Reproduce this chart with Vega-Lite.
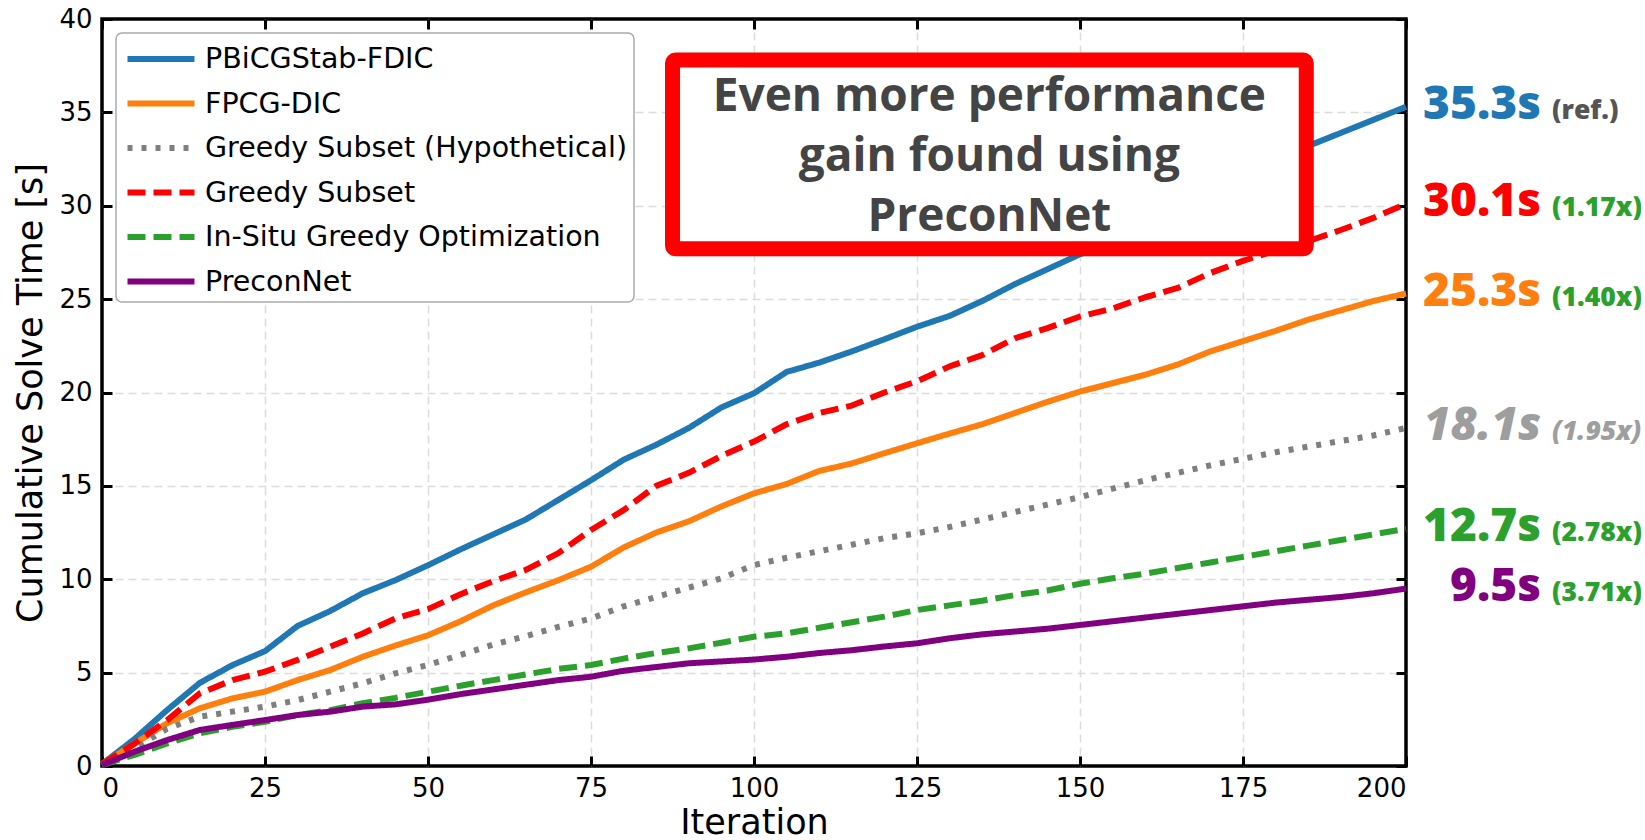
{
  "$schema": "https://vega.github.io/schema/vega-lite/v6.json",
  "width": 1304,
  "height": 747,
  "autosize": {"type": "none"},
  "padding": {"left": 102, "top": 19, "right": 239, "bottom": 74},
  "background": "white",
  "config": {
    "font": "DejaVu Sans",
    "view": {"stroke": "black", "strokeWidth": 3.5},
    "axis": {
      "domain": false,
      "tickColor": "black",
      "tickWidth": 3,
      "tickSize": -10,
      "labelFont": "DejaVu Sans",
      "labelFontSize": 26,
      "labelColor": "black",
      "titleFont": "DejaVu Sans",
      "titleFontSize": 35,
      "titleFontWeight": "normal",
      "titleColor": "black",
      "gridColor": "#dcdcdc",
      "gridDash": [8, 5],
      "gridWidth": 1.5
    },
    "legend": {
      "orient": "top-left",
      "offset": 14,
      "padding": 6,
      "fillColor": "white",
      "strokeColor": "#aaaaaa",
      "strokeWidth": 1.5,
      "cornerRadius": 6,
      "labelFont": "DejaVu Sans",
      "labelFontSize": 28.5,
      "labelColor": "black",
      "labelLimit": 0,
      "labelOffset": 24,
      "symbolOffset": 19,
      "symbolType": "M-2,0H2",
      "symbolSize": 1122,
      "symbolStrokeWidth": 6,
      "rowPadding": 9.5
    }
  },
  "datasets": {
    "series": [
      {"i": 0, "PBiCGStab-FDIC": 0.1, "FPCG-DIC": 0.1, "Greedy Subset (Hypothetical)": 0.05, "Greedy Subset": 0.1, "In-Situ Greedy Optimization": 0.05, "PreconNet": 0.05},
      {"i": 5, "PBiCGStab-FDIC": 1.45, "FPCG-DIC": 1.2, "Greedy Subset (Hypothetical)": 0.95, "Greedy Subset": 1.2, "In-Situ Greedy Optimization": 0.6, "PreconNet": 0.77},
      {"i": 10, "PBiCGStab-FDIC": 3.0, "FPCG-DIC": 2.29, "Greedy Subset (Hypothetical)": 2.0, "Greedy Subset": 2.46, "In-Situ Greedy Optimization": 1.21, "PreconNet": 1.39},
      {"i": 15, "PBiCGStab-FDIC": 4.45, "FPCG-DIC": 3.09, "Greedy Subset (Hypothetical)": 2.64, "Greedy Subset": 3.89, "In-Situ Greedy Optimization": 1.75, "PreconNet": 1.93},
      {"i": 20, "PBiCGStab-FDIC": 5.4, "FPCG-DIC": 3.62, "Greedy Subset (Hypothetical)": 2.91, "Greedy Subset": 4.6, "In-Situ Greedy Optimization": 2.1, "PreconNet": 2.2},
      {"i": 25, "PBiCGStab-FDIC": 6.15, "FPCG-DIC": 3.98, "Greedy Subset (Hypothetical)": 3.18, "Greedy Subset": 5.05, "In-Situ Greedy Optimization": 2.37, "PreconNet": 2.46},
      {"i": 30, "PBiCGStab-FDIC": 7.5, "FPCG-DIC": 4.6, "Greedy Subset (Hypothetical)": 3.53, "Greedy Subset": 5.68, "In-Situ Greedy Optimization": 2.73, "PreconNet": 2.73},
      {"i": 35, "PBiCGStab-FDIC": 8.3, "FPCG-DIC": 5.14, "Greedy Subset (Hypothetical)": 3.98, "Greedy Subset": 6.39, "In-Situ Greedy Optimization": 2.99, "PreconNet": 2.91},
      {"i": 40, "PBiCGStab-FDIC": 9.25, "FPCG-DIC": 5.85, "Greedy Subset (Hypothetical)": 4.43, "Greedy Subset": 7.1, "In-Situ Greedy Optimization": 3.36, "PreconNet": 3.18},
      {"i": 45, "PBiCGStab-FDIC": 9.95, "FPCG-DIC": 6.45, "Greedy Subset (Hypothetical)": 4.96, "Greedy Subset": 7.9, "In-Situ Greedy Optimization": 3.65, "PreconNet": 3.3},
      {"i": 50, "PBiCGStab-FDIC": 10.75, "FPCG-DIC": 7.0, "Greedy Subset (Hypothetical)": 5.41, "Greedy Subset": 8.4, "In-Situ Greedy Optimization": 3.98, "PreconNet": 3.55},
      {"i": 55, "PBiCGStab-FDIC": 11.6, "FPCG-DIC": 7.75, "Greedy Subset (Hypothetical)": 5.95, "Greedy Subset": 9.2, "In-Situ Greedy Optimization": 4.3, "PreconNet": 3.85},
      {"i": 60, "PBiCGStab-FDIC": 12.4, "FPCG-DIC": 8.6, "Greedy Subset (Hypothetical)": 6.5, "Greedy Subset": 9.9, "In-Situ Greedy Optimization": 4.6, "PreconNet": 4.1},
      {"i": 65, "PBiCGStab-FDIC": 13.2, "FPCG-DIC": 9.3, "Greedy Subset (Hypothetical)": 6.95, "Greedy Subset": 10.5, "In-Situ Greedy Optimization": 4.9, "PreconNet": 4.35},
      {"i": 70, "PBiCGStab-FDIC": 14.25, "FPCG-DIC": 9.95, "Greedy Subset (Hypothetical)": 7.45, "Greedy Subset": 11.4, "In-Situ Greedy Optimization": 5.2, "PreconNet": 4.6},
      {"i": 75, "PBiCGStab-FDIC": 15.3, "FPCG-DIC": 10.67, "Greedy Subset (Hypothetical)": 7.9, "Greedy Subset": 12.64, "In-Situ Greedy Optimization": 5.41, "PreconNet": 4.78},
      {"i": 80, "PBiCGStab-FDIC": 16.4, "FPCG-DIC": 11.7, "Greedy Subset (Hypothetical)": 8.55, "Greedy Subset": 13.7, "In-Situ Greedy Optimization": 5.75, "PreconNet": 5.1},
      {"i": 85, "PBiCGStab-FDIC": 17.2, "FPCG-DIC": 12.5, "Greedy Subset (Hypothetical)": 9.05, "Greedy Subset": 15.0, "In-Situ Greedy Optimization": 6.05, "PreconNet": 5.3},
      {"i": 90, "PBiCGStab-FDIC": 18.1, "FPCG-DIC": 13.1, "Greedy Subset (Hypothetical)": 9.55, "Greedy Subset": 15.7, "In-Situ Greedy Optimization": 6.3, "PreconNet": 5.5},
      {"i": 95, "PBiCGStab-FDIC": 19.2, "FPCG-DIC": 13.9, "Greedy Subset (Hypothetical)": 10.05, "Greedy Subset": 16.6, "In-Situ Greedy Optimization": 6.6, "PreconNet": 5.6},
      {"i": 100, "PBiCGStab-FDIC": 19.96, "FPCG-DIC": 14.6, "Greedy Subset (Hypothetical)": 10.76, "Greedy Subset": 17.37, "In-Situ Greedy Optimization": 6.92, "PreconNet": 5.7},
      {"i": 105, "PBiCGStab-FDIC": 21.1, "FPCG-DIC": 15.1, "Greedy Subset (Hypothetical)": 11.15, "Greedy Subset": 18.3, "In-Situ Greedy Optimization": 7.1, "PreconNet": 5.85},
      {"i": 110, "PBiCGStab-FDIC": 21.6, "FPCG-DIC": 15.8, "Greedy Subset (Hypothetical)": 11.5, "Greedy Subset": 18.9, "In-Situ Greedy Optimization": 7.4, "PreconNet": 6.05},
      {"i": 115, "PBiCGStab-FDIC": 22.2, "FPCG-DIC": 16.2, "Greedy Subset (Hypothetical)": 11.85, "Greedy Subset": 19.3, "In-Situ Greedy Optimization": 7.7, "PreconNet": 6.2},
      {"i": 120, "PBiCGStab-FDIC": 22.85, "FPCG-DIC": 16.75, "Greedy Subset (Hypothetical)": 12.2, "Greedy Subset": 20.0, "In-Situ Greedy Optimization": 8.0, "PreconNet": 6.4},
      {"i": 125, "PBiCGStab-FDIC": 23.52, "FPCG-DIC": 17.28, "Greedy Subset (Hypothetical)": 12.46, "Greedy Subset": 20.6, "In-Situ Greedy Optimization": 8.35, "PreconNet": 6.57},
      {"i": 130, "PBiCGStab-FDIC": 24.1, "FPCG-DIC": 17.8, "Greedy Subset (Hypothetical)": 12.8, "Greedy Subset": 21.4, "In-Situ Greedy Optimization": 8.6, "PreconNet": 6.84},
      {"i": 135, "PBiCGStab-FDIC": 24.9, "FPCG-DIC": 18.3, "Greedy Subset (Hypothetical)": 13.2, "Greedy Subset": 22.0, "In-Situ Greedy Optimization": 8.85, "PreconNet": 7.05},
      {"i": 140, "PBiCGStab-FDIC": 25.8, "FPCG-DIC": 18.9, "Greedy Subset (Hypothetical)": 13.6, "Greedy Subset": 22.9, "In-Situ Greedy Optimization": 9.15, "PreconNet": 7.2},
      {"i": 145, "PBiCGStab-FDIC": 26.6, "FPCG-DIC": 19.5, "Greedy Subset (Hypothetical)": 14.0, "Greedy Subset": 23.45, "In-Situ Greedy Optimization": 9.4, "PreconNet": 7.35},
      {"i": 150, "PBiCGStab-FDIC": 27.4, "FPCG-DIC": 20.05, "Greedy Subset (Hypothetical)": 14.4, "Greedy Subset": 24.07, "In-Situ Greedy Optimization": 9.76, "PreconNet": 7.55},
      {"i": 155, "PBiCGStab-FDIC": 28.1, "FPCG-DIC": 20.5, "Greedy Subset (Hypothetical)": 14.85, "Greedy Subset": 24.5, "In-Situ Greedy Optimization": 10.05, "PreconNet": 7.75},
      {"i": 160, "PBiCGStab-FDIC": 28.9, "FPCG-DIC": 20.95, "Greedy Subset (Hypothetical)": 15.3, "Greedy Subset": 25.1, "In-Situ Greedy Optimization": 10.3, "PreconNet": 7.95},
      {"i": 165, "PBiCGStab-FDIC": 29.8, "FPCG-DIC": 21.5, "Greedy Subset (Hypothetical)": 15.7, "Greedy Subset": 25.6, "In-Situ Greedy Optimization": 10.6, "PreconNet": 8.15},
      {"i": 170, "PBiCGStab-FDIC": 30.7, "FPCG-DIC": 22.2, "Greedy Subset (Hypothetical)": 16.1, "Greedy Subset": 26.4, "In-Situ Greedy Optimization": 10.9, "PreconNet": 8.35},
      {"i": 175, "PBiCGStab-FDIC": 31.5, "FPCG-DIC": 22.75, "Greedy Subset (Hypothetical)": 16.45, "Greedy Subset": 27.05, "In-Situ Greedy Optimization": 11.2, "PreconNet": 8.55},
      {"i": 180, "PBiCGStab-FDIC": 32.3, "FPCG-DIC": 23.3, "Greedy Subset (Hypothetical)": 16.8, "Greedy Subset": 27.6, "In-Situ Greedy Optimization": 11.5, "PreconNet": 8.75},
      {"i": 185, "PBiCGStab-FDIC": 33.2, "FPCG-DIC": 23.9, "Greedy Subset (Hypothetical)": 17.1, "Greedy Subset": 28.1, "In-Situ Greedy Optimization": 11.8, "PreconNet": 8.9},
      {"i": 190, "PBiCGStab-FDIC": 33.9, "FPCG-DIC": 24.4, "Greedy Subset (Hypothetical)": 17.4, "Greedy Subset": 28.7, "In-Situ Greedy Optimization": 12.1, "PreconNet": 9.05},
      {"i": 195, "PBiCGStab-FDIC": 34.6, "FPCG-DIC": 24.9, "Greedy Subset (Hypothetical)": 17.7, "Greedy Subset": 29.35, "In-Situ Greedy Optimization": 12.4, "PreconNet": 9.25},
      {"i": 200, "PBiCGStab-FDIC": 35.3, "FPCG-DIC": 25.3, "Greedy Subset (Hypothetical)": 18.1, "Greedy Subset": 30.1, "In-Situ Greedy Optimization": 12.7, "PreconNet": 9.5}
    ],
    "box": [
      {"x1": 87.5, "x2": 184.7, "y1": 37.8, "y2": 27.7, "note": "Even more performance\ngain found using\nPreconNet"}
    ],
    "labels": [
      {"s": "PBiCGStab-FDIC", "v": 35.3, "val": "35.3s", "ratio": "(ref.)", "kind": "ref"},
      {"s": "Greedy Subset", "v": 30.1, "val": "30.1s", "ratio": "(1.17x)", "kind": "gain"},
      {"s": "FPCG-DIC", "v": 25.3, "val": "25.3s", "ratio": "(1.40x)", "kind": "gain"},
      {"s": "Greedy Subset (Hypothetical)", "v": 18.1, "val": "18.1s", "ratio": "(1.95x)", "kind": "hyp"},
      {"s": "In-Situ Greedy Optimization", "v": 12.7, "val": "12.7s", "ratio": "(2.78x)", "kind": "gain"},
      {"s": "PreconNet", "v": 9.5, "val": "9.5s", "ratio": "(3.71x)", "kind": "gain"}
    ]
  },
  "layer": [
    {
      "data": {"name": "series"},
      "transform": [
        {"fold": ["PBiCGStab-FDIC", "FPCG-DIC", "Greedy Subset (Hypothetical)", "Greedy Subset", "In-Situ Greedy Optimization", "PreconNet"], "as": ["s", "v"]}
      ],
      "mark": {"type": "line", "strokeWidth": 6, "strokeCap": "butt", "strokeJoin": "round"},
      "encoding": {
        "x": {
          "field": "i", "type": "quantitative",
          "scale": {"domain": [0, 200], "nice": false},
          "axis": {
            "orient": "bottom", "title": "Iteration", "values": [0, 25, 50, 75, 100, 125, 150, 175, 200],
            "labelPadding": 19, "titlePadding": 4, "grid": true,
            "gridOpacity": {"condition": {"test": "datum.value <= 0 || datum.value >= 200", "value": 0}, "value": 1}
          }
        },
        "y": {
          "field": "v", "type": "quantitative",
          "scale": {"domain": [0, 40], "nice": false},
          "axis": {
            "orient": "left", "title": "Cumulative Solve Time [s]", "values": [0, 5, 10, 15, 20, 25, 30, 35, 40],
            "labelPadding": 20, "titlePadding": 10, "grid": true,
            "gridOpacity": {"condition": {"test": "datum.value <= 0 || datum.value >= 40", "value": 0}, "value": 1}
          }
        },
        "color": {
          "field": "s", "type": "nominal",
          "scale": {
            "domain": ["PBiCGStab-FDIC", "FPCG-DIC", "Greedy Subset (Hypothetical)", "Greedy Subset", "In-Situ Greedy Optimization", "PreconNet"],
            "range": ["#1f77b4", "#ff7f0e", "#7f7f7f", "#ff0000", "#2ca02c", "#800080"]
          },
          "legend": {"title": null}
        },
        "strokeDash": {
          "field": "s", "type": "nominal",
          "scale": {
            "domain": ["PBiCGStab-FDIC", "FPCG-DIC", "Greedy Subset (Hypothetical)", "Greedy Subset", "In-Situ Greedy Optimization", "PreconNet"],
            "range": [[1, 0], [1, 0], [5, 9], [18, 8], [18, 8], [1, 0]]
          },
          "legend": {"title": null}
        }
      }
    },
    {
      "data": {"name": "box"},
      "mark": {"type": "rect", "fill": "#000000", "stroke": "#000000", "strokeWidth": 15, "opacity": 0.15, "cornerRadius": 3, "xOffset": 4, "yOffset": 5},
      "encoding": {
        "x": {"field": "x1", "type": "quantitative", "scale": {"domain": [0, 200], "nice": false}, "axis": null},
        "x2": {"field": "x2"},
        "y": {"field": "y1", "type": "quantitative", "scale": {"domain": [0, 40], "nice": false}, "axis": null},
        "y2": {"field": "y2"}
      }
    },
    {
      "data": {"name": "box"},
      "mark": {"type": "rect", "fill": "white", "stroke": "#ff0000", "strokeWidth": 15, "cornerRadius": 3},
      "encoding": {
        "x": {
          "field": "x1", "type": "quantitative", "scale": {"domain": [0, 200], "nice": false},
          "axis": {"orient": "top", "title": null, "labels": false, "grid": false, "values": [0, 25, 50, 75, 100, 125, 150, 175, 200]}
        },
        "x2": {"field": "x2"},
        "y": {
          "field": "y1", "type": "quantitative", "scale": {"domain": [0, 40], "nice": false},
          "axis": {"orient": "right", "title": null, "labels": false, "grid": false, "values": [0, 5, 10, 15, 20, 25, 30, 35, 40]}
        },
        "y2": {"field": "y2"}
      }
    },
    {
      "data": {"name": "box"},
      "mark": {"type": "text", "font": "Open Sans", "fontWeight": 700, "fontSize": 46, "color": "#444444", "align": "center", "baseline": "middle", "lineBreak": "\n", "lineHeight": 60},
      "encoding": {
        "x": {"datum": 136.1, "type": "quantitative", "axis": null},
        "y": {"datum": 35.8, "type": "quantitative", "axis": null},
        "text": {"field": "note"}
      }
    },
    {
      "data": {"name": "labels"},
      "transform": [{"filter": "datum.kind !== 'hyp'"}],
      "mark": {"type": "text", "font": "Open Sans", "fontWeight": 800, "fontSize": 46, "align": "right", "baseline": "alphabetic", "dx": 135, "dy": 12},
      "encoding": {
        "x": {"datum": 200, "type": "quantitative", "axis": null},
        "y": {"field": "v", "type": "quantitative", "axis": null},
        "text": {"field": "val"},
        "fill": {
          "field": "s", "type": "nominal",
          "scale": {
            "domain": ["PBiCGStab-FDIC", "FPCG-DIC", "Greedy Subset (Hypothetical)", "Greedy Subset", "In-Situ Greedy Optimization", "PreconNet"],
            "range": ["#1f77b4", "#ff7f0e", "#9e9e9e", "#ff0000", "#2ca02c", "#800080"]
          },
          "legend": null
        }
      }
    },
    {
      "data": {"name": "labels"},
      "transform": [{"filter": "datum.kind === 'hyp'"}],
      "mark": {"type": "text", "font": "Open Sans", "fontWeight": 800, "fontStyle": "italic", "fontSize": 46, "align": "right", "baseline": "alphabetic", "dx": 135, "dy": 12, "color": "#9e9e9e"},
      "encoding": {
        "x": {"datum": 200, "type": "quantitative", "axis": null},
        "y": {"field": "v", "type": "quantitative", "axis": null},
        "text": {"field": "val"}
      }
    },
    {
      "data": {"name": "labels"},
      "transform": [{"filter": "datum.kind === 'gain'"}],
      "mark": {"type": "text", "font": "Open Sans", "fontWeight": 800, "fontSize": 26.5, "align": "left", "baseline": "alphabetic", "dx": 146, "dy": 12, "color": "#2ca02c"},
      "encoding": {
        "x": {"datum": 200, "type": "quantitative", "axis": null},
        "y": {"field": "v", "type": "quantitative", "axis": null},
        "text": {"field": "ratio"}
      }
    },
    {
      "data": {"name": "labels"},
      "transform": [{"filter": "datum.kind === 'ref'"}],
      "mark": {"type": "text", "font": "Open Sans", "fontWeight": 800, "fontSize": 26.5, "align": "left", "baseline": "alphabetic", "dx": 146, "dy": 12, "color": "#555555"},
      "encoding": {
        "x": {"datum": 200, "type": "quantitative", "axis": null},
        "y": {"field": "v", "type": "quantitative", "axis": null},
        "text": {"field": "ratio"}
      }
    },
    {
      "data": {"name": "labels"},
      "transform": [{"filter": "datum.kind === 'hyp'"}],
      "mark": {"type": "text", "font": "Open Sans", "fontWeight": 800, "fontStyle": "italic", "fontSize": 26.5, "align": "left", "baseline": "alphabetic", "dx": 146, "dy": 12, "color": "#9e9e9e"},
      "encoding": {
        "x": {"datum": 200, "type": "quantitative", "axis": null},
        "y": {"field": "v", "type": "quantitative", "axis": null},
        "text": {"field": "ratio"}
      }
    }
  ],
  "resolve": {
    "axis": {"x": "independent", "y": "independent"}
  }
}
